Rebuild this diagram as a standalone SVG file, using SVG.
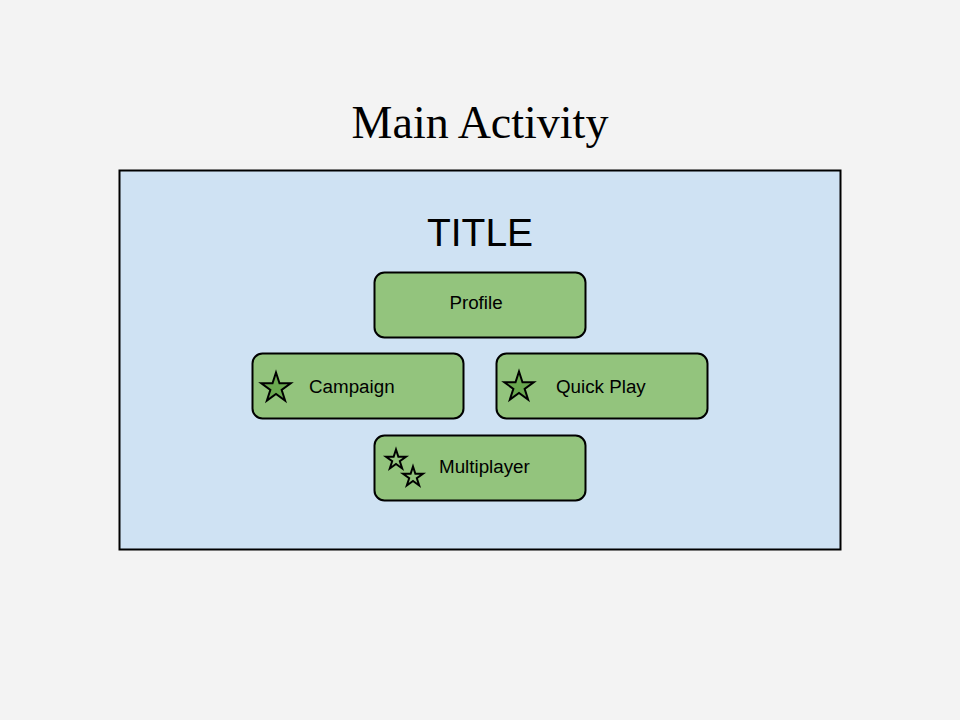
<svg xmlns="http://www.w3.org/2000/svg" width="960" height="720" viewBox="0 0 960 720">
<style>
.node{fill:#93c47d;stroke:#000;stroke-width:2}
.lbl{font-family:"Liberation Sans",Arial,sans-serif;font-size:18.8px;fill:#000}
.star{stroke:#000;stroke-width:2;stroke-linejoin:miter}
.dark{fill:#6aa84f}
.light{fill:#93c47d}
</style>
<rect width="960" height="720" fill="#f3f3f3"/>
<text x="480" y="138" text-anchor="middle" font-family="'Liberation Serif','Times New Roman',serif" font-size="46" fill="#000">Main Activity</text>
<g id="panel">
<rect x="119.5" y="170.5" width="721" height="379" fill="#cfe2f3" stroke="#000" stroke-width="2"/>
<text x="480" y="246" text-anchor="middle" font-family="'Liberation Sans',Arial,sans-serif" font-size="39" fill="#000">TITLE</text>
</g>
<g id="profile">
<rect class="node" x="374.5" y="272.5" width="211" height="65" rx="10"/>
<text class="lbl" x="476" y="309" text-anchor="middle">Profile</text>
</g>
<g id="campaign">
<rect class="node" x="252.5" y="353.5" width="211" height="65" rx="10"/>
<polygon class="star dark" points="276,372.5 279.48,383.21 290.74,383.21 281.63,389.83 285.11,400.54 276,393.92 266.89,400.54 270.37,389.83 261.26,383.21 272.52,383.21"/>
<text class="lbl" x="309" y="393">Campaign</text>
</g>
<g id="quickplay">
<rect class="node" x="496.5" y="353.5" width="211" height="65" rx="10"/>
<polygon class="star dark" points="519,371.5 522.48,382.21 533.74,382.21 524.63,388.83 528.11,399.54 519,392.92 509.89,399.54 513.37,388.83 504.26,382.21 515.52,382.21"/>
<text class="lbl" x="556" y="393">Quick Play</text>
</g>
<g id="multiplayer">
<rect class="node" x="374.5" y="435.5" width="211" height="65" rx="10"/>
<polygon class="star light" points="396,449.5 398.36,456.76 405.99,456.76 399.81,461.24 402.17,468.49 396,464.01 389.83,468.49 392.19,461.24 386.01,456.76 393.64,456.76"/>
<polygon class="star light" points="413,466.5 415.36,473.76 422.99,473.76 416.81,478.24 419.17,485.49 413,481.01 406.83,485.49 409.19,478.24 403.01,473.76 410.64,473.76"/>
<text class="lbl" x="439" y="473">Multiplayer</text>
</g>
<g id="connectors"></g>
</svg>
